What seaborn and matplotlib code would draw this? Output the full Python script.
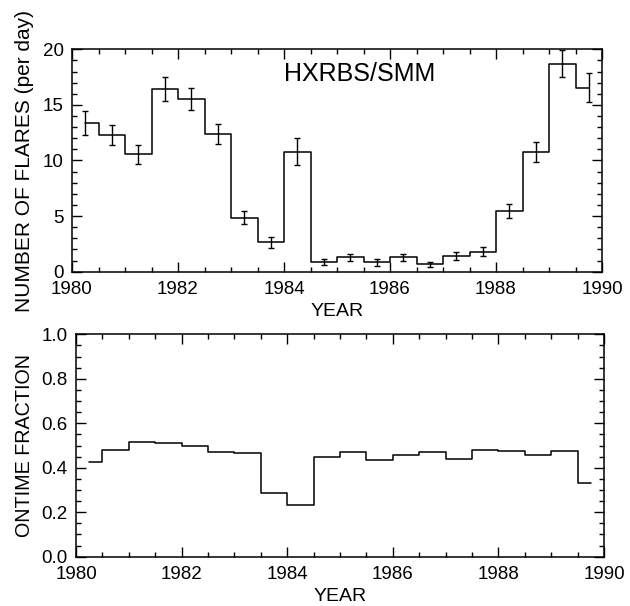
import numpy as np
import pandas as pd
import matplotlib
matplotlib.use("Agg")
import matplotlib.pyplot as plt
from matplotlib.ticker import MultipleLocator
import seaborn as sns

# ---- data ----
years = [1980.25, 1980.75, 1981.25, 1981.75, 1982.25, 1982.75, 1983.25, 1983.75,
         1984.25, 1984.75, 1985.25, 1985.75, 1986.25, 1986.75, 1987.25, 1987.75,
         1988.25, 1988.75, 1989.25, 1989.75]
flares = [13.35, 12.26, 10.58, 16.43, 15.53, 12.36, 4.86, 2.64,
          10.79, 0.90, 1.29, 0.84, 1.29, 0.66, 1.40, 1.80,
          5.47, 10.74, 18.70, 16.55]
flare_err = [1.10, 0.90, 0.85, 1.05, 1.00, 0.90, 0.57, 0.52,
             1.20, 0.27, 0.30, 0.30, 0.30, 0.25, 0.35, 0.40,
             0.62, 0.90, 1.20, 1.30]
ontime = [0.424, 0.480, 0.514, 0.513, 0.500, 0.472, 0.465, 0.285,
          0.232, 0.447, 0.472, 0.435, 0.457, 0.469, 0.440, 0.480,
          0.477, 0.457, 0.477, 0.333]
year_ticks = [1980, 1982, 1984, 1986, 1988, 1990]
flare_ticks = [0, 5, 10, 15, 20]
ontime_ticks = [0.0, 0.2, 0.4, 0.6, 0.8, 1.0]
label_text = "HXRBS/SMM"

df = pd.DataFrame({"year": years, "flares": flares, "err": flare_err, "ontime": ontime})

sns.set_theme(style="ticks")
plt.rcParams["font.family"] = ["Liberation Sans", "DejaVu Sans"]
plt.rcParams["axes.edgecolor"] = "black"
plt.rcParams["axes.linewidth"] = 1.1
plt.rcParams["text.color"] = "black"
plt.rcParams["axes.labelcolor"] = "black"
plt.rcParams["xtick.color"] = "black"
plt.rcParams["ytick.color"] = "black"
plt.rcParams["xtick.labelcolor"] = "black"
plt.rcParams["ytick.labelcolor"] = "black"

fig = plt.figure(figsize=(6.3, 6.06), dpi=100)
ax1 = fig.add_axes([72 / 630, 1 - 271.7 / 606, 530 / 630, 222.4 / 606])
ax2 = fig.add_axes([76 / 630, 1 - 556.7 / 606, 528 / 630, 222.4 / 606])

lw = 1.1
sns.lineplot(data=df, x="year", y="flares", ax=ax1, color="black", lw=lw,
             drawstyle="steps-mid", estimator=None, sort=True)
ax1.errorbar(df["year"], df["flares"], yerr=df["err"], fmt="none",
             ecolor="black", elinewidth=1.0, capsize=2.5, capthick=1.0)
sns.lineplot(data=df, x="year", y="ontime", ax=ax2, color="black", lw=lw,
             drawstyle="steps-mid", estimator=None, sort=True)

ax1.text(1984.0, 17.8, label_text, fontsize=18, ha="left", va="center", color="black")

for ax, yt, ylab, lo, hi, minor, fmt, ycoord in [
        (ax1, flare_ticks, "NUMBER OF FLARES (per day)", 0, 20, 1, "{:d}", -0.072),
        (ax2, ontime_ticks, "ONTIME FRACTION", 0, 1, 0.05, "{:.1f}", -0.080)]:
    ax.set_xlim(1980, 1990)
    ax.set_ylim(lo, hi)
    ax.set_xticks(year_ticks)
    ax.set_xticklabels([str(y) for y in year_ticks])
    ax.set_yticks(yt)
    ax.set_yticklabels([fmt.format(v) for v in yt])
    ax.xaxis.set_minor_locator(MultipleLocator(0.5))
    ax.yaxis.set_minor_locator(MultipleLocator(minor))
    ax.tick_params(axis="both", which="both", direction="in", top=True, right=True,
                   colors="black", width=1.0)
    ax.tick_params(axis="both", which="major", length=7, labelsize=13.5)
    ax.tick_params(axis="x", which="major", pad=7)
    ax.tick_params(axis="y", which="major", pad=6)
    ax.tick_params(axis="both", which="minor", length=3.5)
    ax.set_xlabel("YEAR", fontsize=14, labelpad=3, color="black")
    ax.set_ylabel(ylab, fontsize=15 if ax is ax1 else 14.2, color="black")
    ax.yaxis.set_label_coords(ycoord, 0.5)
    for s in ax.spines.values():
        s.set_visible(True)
        s.set_color("black")

fig.savefig("out.png", dpi=100, facecolor="white")
